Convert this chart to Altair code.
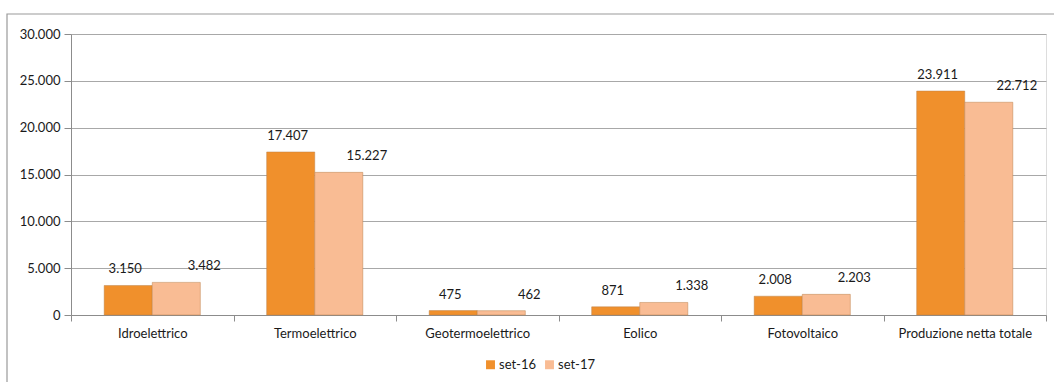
import altair as alt
import pandas as pd

categories = ["Idroelettrico", "Termoelettrico", "Geotermoelettrico", "Eolico",
              "Fotovoltaico", "Produzione netta totale"]
series = ["set-16", "set-17"]
set16 = [3150, 17407, 475, 871, 2008, 23911]
set17 = [3482, 15227, 462, 1338, 2203, 22712]
colors = ["#F0902C", "#F9BC94"]

rows = []
for c, a, b in zip(categories, set16, set17):
    rows.append({"cat": c, "serie": "set-16", "val": a})
    rows.append({"cat": c, "serie": "set-17", "val": b})
df = pd.DataFrame(rows)

FONT = "Lato"
TXT = "#1a1a1a"

x = alt.X("cat:N", sort=categories, title=None,
          scale=alt.Scale(paddingInner=0, paddingOuter=0),
          axis=alt.Axis(labelAngle=0, tickBand="extent", tickSize=6, tickColor="#8c8c8c",
                        domainColor="#8c8c8c", labelFont=FONT, labelFontSize=13,
                        labelColor=TXT, labelPadding=6, grid=False))
xo = alt.XOffset("serie:N", sort=series,
                 scale=alt.Scale(paddingInner=0, paddingOuter=0.69))
y = alt.Y("val:Q", title=None,
          scale=alt.Scale(domain=[0, 30000], nice=False),
          axis=alt.Axis(values=[0, 5000, 10000, 15000, 20000, 25000, 30000], format=",d",
                        tickSize=7, tickColor="#8c8c8c", domainColor="#8c8c8c",
                        gridColor="#a8a8a8", gridWidth=1.2, labelFont=FONT,
                        labelFontSize=13, labelColor=TXT, labelPadding=4))

base = alt.Chart(df)

bars = base.mark_bar(stroke="#b9804a", strokeWidth=0.8, strokeOpacity=0.6).encode(
    x=x, xOffset=xo, y=y,
    color=alt.Color("serie:N", sort=series, title=None,
                    scale=alt.Scale(domain=series, range=colors),
                    legend=alt.Legend(orient="none", legendX=413, legendY=324,
                                      direction="horizontal", symbolType="square",
                                      symbolSize=80, symbolStrokeWidth=0,
                                      labelFont=FONT, labelFontSize=13, labelColor=TXT,
                                      columnPadding=6, labelOffset=2)),
)

lab16 = base.transform_filter(alt.datum.serie == "set-16").mark_text(
    baseline="bottom", dy=-9, dx=-3, font=FONT, fontSize=13, color=TXT
).encode(x=alt.X("cat:N", sort=categories), xOffset=xo, y="val:Q",
         text=alt.Text("val:Q", format=",d"))

lab17 = base.transform_filter(alt.datum.serie == "set-17").mark_text(
    baseline="bottom", dy=-9, dx=28, font=FONT, fontSize=13, color=TXT
).encode(x=alt.X("cat:N", sort=categories), xOffset=xo, y="val:Q",
         text=alt.Text("val:Q", format=",d"))

frame = alt.Chart(alt.Data(values=[{"a": 1}])).mark_rect(
    fill=None, stroke="#9a9a9a", strokeWidth=1.2
).encode(x=alt.value(-64), x2=alt.value(1200), y=alt.value(-20), y2=alt.value(500))

chart = alt.layer(frame, bars, lab16, lab17).properties(
    width=975, height=281,
    autosize=alt.AutoSizeParams(type="none"),
    padding={"left": 71, "top": 34, "right": 8, "bottom": 67},
).configure_view(stroke=None).configure(
    locale={"number": {"decimal": ",", "thousands": ".", "grouping": [3],
                       "currency": ["€", ""]}},
    background="white",
)

chart.save("out.html", embed_options={"renderer": "svg", "actions": False})
